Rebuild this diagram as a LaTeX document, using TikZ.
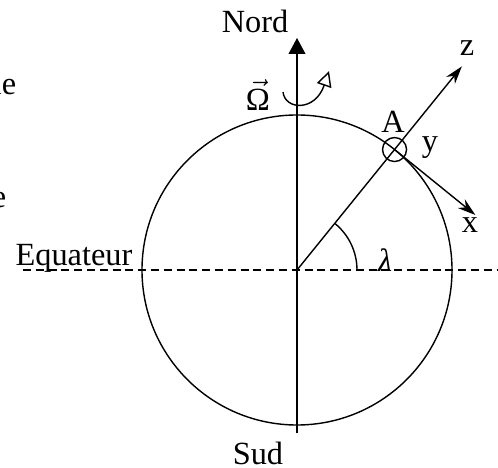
\documentclass[tikz,border=0pt]{standalone}
\usepackage{amsmath}
\usepackage{fontspec}
\setmainfont{Liberation Serif}
\usetikzlibrary{arrows.meta}

\begin{document}
\begin{tikzpicture}[>={Stealth[length=4.5mm,width=2.8mm]}, line width=1pt,
  lbl/.style={font=\fontsize{23}{27}\selectfont, inner sep=0pt}]
  \useasboundingbox (-7.425,-4.95) rectangle (5.025,6.75);
  \coordinate (O) at (0,0);
  \coordinate (S) at (0,-4.075);
  \coordinate (N) at (0,5.8);
  \coordinate (A) at (51:3.875);
  \coordinate (Z) at (51:6.55);
  \coordinate (W) at (-6.85,0);
  \coordinate (E) at (5.2,0);
  \draw (O) circle (3.875);
  \draw[line width=1.5pt, dash pattern=on 0.2cm off 0.12cm] (W) -- (E);
  \draw[-{Triangle[length=4mm,width=4.2mm]}] (S) -- (N);
  \draw[->] (O) -- (Z);
  \draw[->] (A) -- ++(-39:2.6) coordinate (X);
  \draw (A) circle (0.3);
  \draw (1.5,0) arc (0:51:1.5);
  % rotation
  \draw[-{Triangle[open,length=3.8mm,width=3.8mm]}] (-0.35,4.45)
    .. controls (-0.3,4.0) and (0.45,3.95) .. (0.8,4.97);
  \node[lbl] (nord) at (-1.05,6.225) {Nord};
  \node[lbl] (sud) at (-0.975,-4.575) {Sud};
  \node[lbl] (omega) at (-0.975,4.375) {$\vec{\text{Ω}}$};
  \node[lbl] (zlbl) at (4.25,5.55) {z};
  \node[lbl] (albl) at (2.4,3.7) {A};
  \node[lbl] (ylbl) at (3.325,3.05) {y};
  \node[lbl] (xlbl) at (4.325,1.125) {x};
  \node[lbl] (lambda) at (2.2,0.25) {\itshape λ};
  \node[lbl, anchor=base east] (equateur) at (-4.1,0.12) {Equateur};
  \node[lbl, anchor=base east] (le) at (-7.0,4.375) {le};
  \node[lbl, anchor=base east] (e) at (-7.25,1.55) {e};
\end{tikzpicture}
\end{document}
